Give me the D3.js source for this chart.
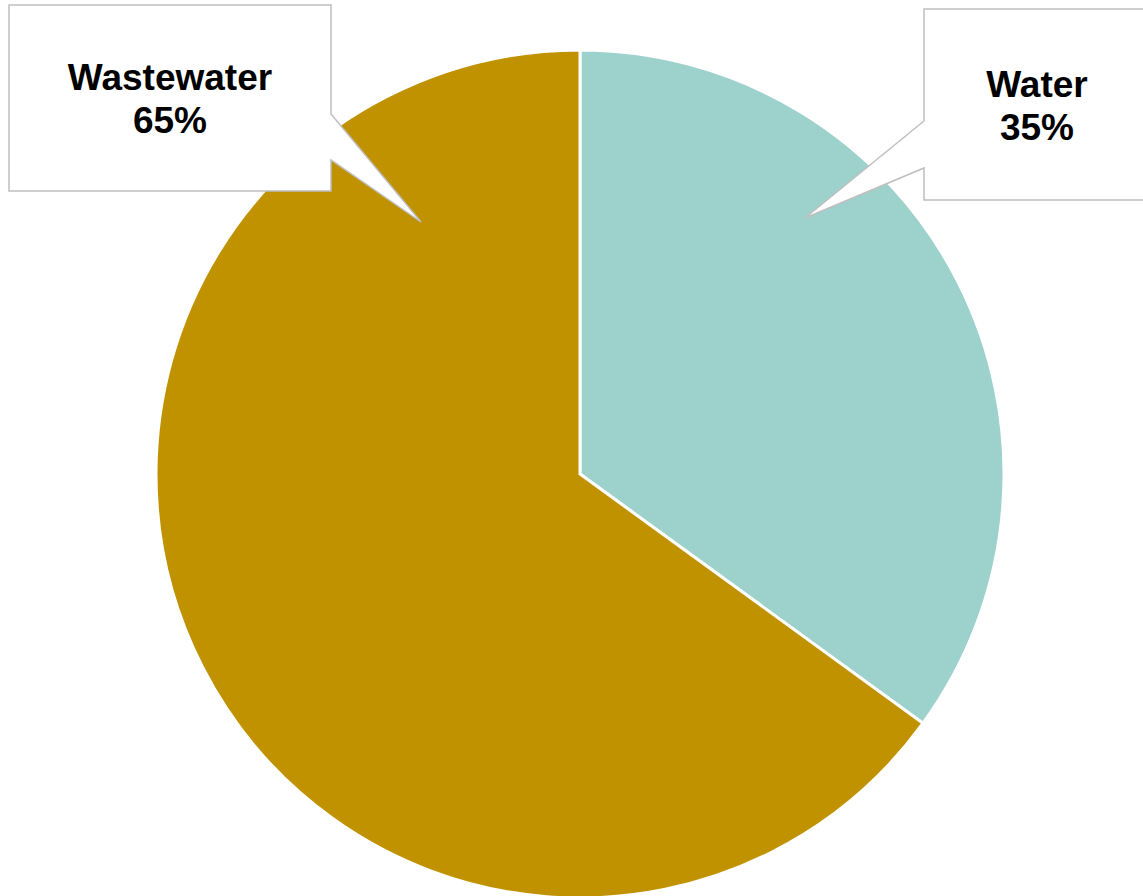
<!DOCTYPE html>
<html>
<head>
<meta charset="utf-8">
<script src="https://cdn.jsdelivr.net/npm/d3@7"></script>
<style>
  html, body { margin: 0; padding: 0; background: #ffffff; }
  svg { display: block; }
</style>
</head>
<body>
<script>
// Share of spending by category
const categories = ["Water", "Wastewater"];
const shares = [35, 65];
const sliceColors = ["#9dd1cc", "#c09200"];

const width = 1143, height = 896;
const cx = 580, cy = 474, radius = 424;

const svg = d3.select("body").append("svg")
  .attr("width", width)
  .attr("height", height);

const data = categories.map((c, i) => ({ name: c, value: shares[i], color: sliceColors[i] }));

const pie = d3.pie().sort(null).value(d => d.value);
const arc = d3.arc().innerRadius(0).outerRadius(radius);

svg.append("g")
  .attr("transform", `translate(${cx},${cy})`)
  .selectAll("path")
  .data(pie(data))
  .join("path")
  .attr("d", arc)
  .attr("fill", d => d.data.color)
  .attr("stroke", "#ffffff")
  .attr("stroke-width", 3)
  .attr("stroke-linejoin", "miter");

// Callout boxes: rectangle with a wedge pointer towards the slice
const callouts = {
  Water: { x0: 924, y0: 9, x1: 1150, y1: 200, side: "left", p0: 121, p1: 168, tip: [805, 218], tx: 1037, ty: 97 },
  Wastewater: { x0: 9, y0: 5, x1: 331, y1: 191, side: "right", p0: 114, p1: 160, tip: [421, 222], tx: 170, ty: 90 }
};

function calloutPath(c) {
  const p = d3.path();
  if (c.side === "right") {
    p.moveTo(c.x0, c.y0);
    p.lineTo(c.x1, c.y0);
    p.lineTo(c.x1, c.p0);
    p.lineTo(c.tip[0], c.tip[1]);
    p.lineTo(c.x1, c.p1);
    p.lineTo(c.x1, c.y1);
    p.lineTo(c.x0, c.y1);
    p.closePath();
  } else {
    p.moveTo(c.x0, c.y0);
    p.lineTo(c.x1, c.y0);
    p.lineTo(c.x1, c.y1);
    p.lineTo(c.x0, c.y1);
    p.lineTo(c.x0, c.p1);
    p.lineTo(c.tip[0], c.tip[1]);
    p.lineTo(c.x0, c.p0);
    p.closePath();
  }
  return p.toString();
}

const labels = svg.append("g")
  .selectAll("g")
  .data(data)
  .join("g");

labels.append("path")
  .attr("d", d => calloutPath(callouts[d.name]))
  .attr("fill", "#ffffff")
  .attr("stroke", "#bfbfbf")
  .attr("stroke-width", 1.5);

const txt = labels.append("text")
  .attr("text-anchor", "middle")
  .attr("font-family", "'Liberation Sans', Arial, sans-serif")
  .attr("font-weight", "bold")
  .attr("font-size", 37)
  .attr("fill", "#000000");

txt.append("tspan")
  .attr("x", d => callouts[d.name].tx)
  .attr("y", d => callouts[d.name].ty)
  .text(d => d.name);

txt.append("tspan")
  .attr("x", d => callouts[d.name].tx)
  .attr("y", d => callouts[d.name].ty + 43)
  .text(d => d.value + "%");
</script>
</body>
</html>
